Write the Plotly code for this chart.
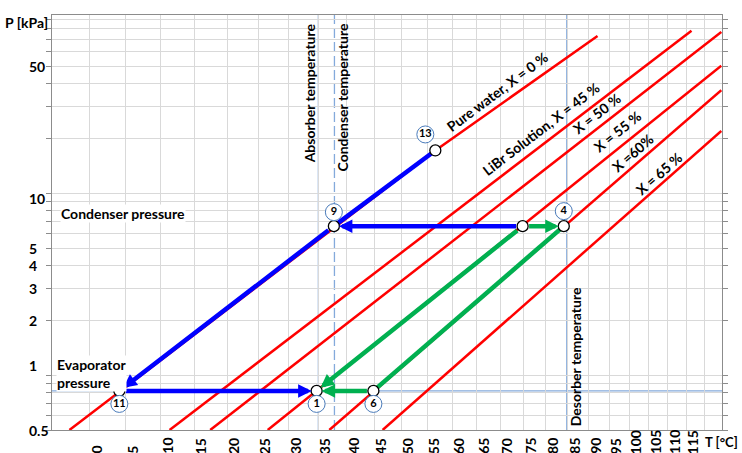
import numpy as np
import plotly.graph_objects as go

# ---------------------------------------------------------------------------
# Dühring-type chart for the LiBr / water absorption cycle.
# x axis: -1/T  (T in K), labelled in °C;  y axis: log P in kPa
# ---------------------------------------------------------------------------

def tx(t):
    """Temperature in °C -> position on the -1/T axis."""
    return -1.0 / (np.asarray(t, dtype=float) + 273.15)


def ly(p):
    """Pressure in kPa -> position on the log axis (annotations)."""
    return float(np.log10(p))


# axis ticks
t_grid = list(range(0, 125, 5))          # vertical gridlines, °C
t_labels = list(range(0, 120, 5))        # labelled temperatures, °C
p_grid = [0.5, 0.6, 0.7, 0.8, 0.9, 1, 2, 3, 4, 5, 6, 7, 8, 9,
          10, 20, 30, 40, 50, 60, 70, 80, 90]
p_labels = [0.5, 1, 2, 3, 4, 5, 10, 50]
p_label_text = ["0.5", "1", "2", "3", "4", "5", "10", "50"]

# equilibrium lines (pure water and LiBr solutions), end points in °C / kPa
line_names = ["Pure water, X = 0 %", "LiBr Solution, X = 45 %", "X = 50 %",
              "X = 55 %", "X =60%", "X = 65 %"]
line_T = [[-2.7, 56.6, 92.1], [11.3, 116.4], [17.4, 124.8],
          [26.5, 124.8], [36.9, 124.8], [46.5, 124.8]]
line_P = [[0.5, 17.2, 73.3], [0.5, 78.2], [0.5, 77.1],
          [0.5, 50.2], [0.5, 36.9], [0.5, 22.0]]
label_T = [69.3, 79.0, 91.9, 97.0, 100.9, 107.6]
label_P = [36.5, 22.6, 27.5, 21.8, 16.8, 12.9]

# operating conditions
P_evap = 0.82     # kPa
P_cond = 6.6      # kPa
T_abs = 35.0      # °C
T_cond = 37.8     # °C
T_des = 84.8      # °C

# cycle state points
state_id = ["1", "3", "4", "6", "9", "11", "13"]
state_T = [34.7, 74.8, 84.1, 44.8, 37.7, 4.1, 56.6]
state_P = [0.82, 6.6, 6.6, 0.82, 6.6, 0.82, 17.2]
S = {k: (t, p) for k, t, p in zip(state_id, state_T, state_P)}

RED = "#FF0000"
BLUE = "#0000FF"
GREEN = "#00B050"
REF = "#84AADB"
GRID = "#D9D9D9"
FONT = "Lato"

# screen scale of the axes (px per axis unit) used to offset the state tags
PX_PER_X = 550200.0
PX_PER_DECADE = 182.0

fig = go.Figure()

# reference lines: pressures (horizontal) and temperatures (vertical)
for p in (P_cond, P_evap):
    fig.add_shape(type="line", xref="paper", x0=0, x1=1, yref="y",
                  y0=ly(p), y1=ly(p), line=dict(color=REF, width=1.3), layer="below")
for t, dash in ((T_abs, "solid"), (T_cond, "10px,4px"), (T_des, "solid")):
    fig.add_shape(type="line", yref="paper", y0=0, y1=1, xref="x",
                  x0=float(tx(t)), x1=float(tx(t)),
                  line=dict(color=REF, width=1.3, dash=dash), layer="below")

# equilibrium lines
for name, ts, ps in zip(line_names, line_T, line_P):
    fig.add_trace(go.Scatter(x=tx(ts), y=ps, mode="lines", name=name,
                             line=dict(color=RED, width=2.5), hoverinfo="skip"))

# cycle lines without arrow heads
for a, b, col in (("13", "9", BLUE), ("4", "6", GREEN)):
    fig.add_trace(go.Scatter(x=tx([S[a][0], S[b][0]]), y=[S[a][1], S[b][1]],
                             mode="lines", line=dict(color=col, width=4.5),
                             hoverinfo="skip"))

# state point markers
fig.add_trace(go.Scatter(x=tx(state_T), y=state_P, mode="markers",
                         marker=dict(size=11, color="white",
                                     line=dict(color="black", width=1.3)),
                         hoverinfo="skip"))

# numbered state tags in small circles, offset (px) from their state point
num_offset = {"1": (0, -13), "4": (0, 15), "6": (0, -13),
              "9": (0, 14), "11": (0, -13), "13": (-10, 16)}
tag_ids = list(num_offset)
tag_x = [float(tx(S[k][0])) + num_offset[k][0] / PX_PER_X for k in tag_ids]
tag_y = [S[k][1] * 10 ** (num_offset[k][1] / PX_PER_DECADE) for k in tag_ids]
fig.add_trace(go.Scatter(x=tag_x, y=tag_y, mode="markers+text", text=tag_ids,
                         textposition="middle center",
                         textfont=dict(family=FONT, size=11, color="black",
                                       weight="bold"),
                         marker=dict(size=17, color="white",
                                     line=dict(color="#4A7BBA", width=1)),
                         hoverinfo="skip"))

ann = []

# arrows of the cycle
for a, b, col in (("3", "9", BLUE), ("9", "11", BLUE), ("11", "1", BLUE),
                  ("3", "4", GREEN), ("3", "1", GREEN), ("6", "1", GREEN)):
    ann.append(dict(x=float(tx(S[b][0])), y=ly(S[b][1]),
                    ax=float(tx(S[a][0])), ay=ly(S[a][1]),
                    xref="x", yref="y", axref="x", ayref="y", text="",
                    showarrow=True, arrowhead=2, arrowsize=0.6, arrowwidth=4.5,
                    arrowcolor=col, standoff=5, startstandoff=5))

# labels along the equilibrium lines
bold14 = dict(family=FONT, size=14, color="black", weight="bold")
for name, t, p, ts, ps in zip(line_names, label_T, label_P, line_T, line_P):
    # text follows the line direction on screen
    ax_px = PX_PER_X * (tx(ts[-1]) - tx(ts[0]))
    ay_px = PX_PER_DECADE * (np.log10(ps[-1]) - np.log10(ps[0]))
    ang = -float(np.degrees(np.arctan2(ay_px, ax_px)))
    ann.append(dict(x=float(tx(t)), y=ly(p), xref="x", yref="y", text=name,
                    showarrow=False, textangle=ang, font=bold14))

# temperature / pressure captions
ann.append(dict(x=float(tx(T_abs)), y=1, xref="x", yref="paper", xshift=-9,
                yshift=-6, yanchor="top", text="Absorber temperature",
                textangle=-90, showarrow=False, font=bold14))
ann.append(dict(x=float(tx(T_cond)), y=1, xref="x", yref="paper", xshift=8,
                yshift=-6, yanchor="top", text="Condenser temperature",
                textangle=-90, showarrow=False, font=bold14))
ann.append(dict(x=float(tx(T_des)), y=0, xref="x", yref="paper", xshift=9,
                yshift=2, yanchor="bottom", text="Desorber temperature",
                textangle=-90, showarrow=False, font=bold14))
ann.append(dict(x=0, y=ly(P_cond), xref="paper", yref="y", xshift=8, yshift=13,
                xanchor="left", text="Condenser pressure", showarrow=False,
                bgcolor="white", borderpad=0, font=bold14))
ann.append(dict(x=0, y=ly(P_evap), xref="paper", yref="y", xshift=4, yshift=-1,
                xanchor="left", yanchor="bottom", align="left",
                text="Evaporator<br>pressure", showarrow=False,
                bgcolor="white", borderpad=0, font=bold14))

# axis labels
for t in t_labels:
    ann.append(dict(x=float(tx(t)), y=0, xref="x", yref="paper", xshift=6,
                    yshift=-26, yanchor="bottom", textangle=-90, text=str(t),
                    showarrow=False, font=bold14))
p_shift = {"1": 10, "10": -5}
for p, s in zip(p_labels, p_label_text):
    ann.append(dict(x=0, y=ly(p), xref="paper", yref="y", xshift=-25,
                    yshift=p_shift.get(s, 0), xanchor="left", text=s,
                    showarrow=False, font=bold14))
ann.append(dict(x=1, y=0, xref="paper", yref="paper", xshift=18, yshift=-12,
                xanchor="right", yanchor="middle", text="T [°C]",
                showarrow=False, font=dict(family=FONT, size=13, color="black",
                                           weight="bold")))
ann.append(dict(x=0, y=1, xref="paper", yref="paper", xshift=-2, yshift=-7,
                xanchor="right", yanchor="middle", text="P [kPa]",
                showarrow=False, font=bold14))

fig.update_layout(
    width=742, height=453,
    margin=dict(l=52, r=20, t=15, b=23),
    plot_bgcolor="white", paper_bgcolor="white",
    showlegend=False,
    font=dict(family=FONT, color="black"),
    annotations=ann,
)
fig.update_xaxes(range=[float(tx(-5)), float(tx(125))], tickvals=tx(t_grid),
                 showticklabels=False, ticks="", showgrid=True, gridcolor=GRID,
                 gridwidth=1, zeroline=False, showline=True, linecolor="#8C8C8C",
                 linewidth=1, mirror=True)
fig.update_yaxes(type="log", range=[np.log10(0.5), 1.98], tickvals=p_grid,
                 showticklabels=False, ticks="outside", ticklen=5,
                 tickcolor="#8C8C8C", showgrid=True, gridcolor=GRID, gridwidth=1,
                 zeroline=False, showline=True, linecolor="#8C8C8C", linewidth=1,
                 mirror="ticks")

fig.write_html("out.html")
